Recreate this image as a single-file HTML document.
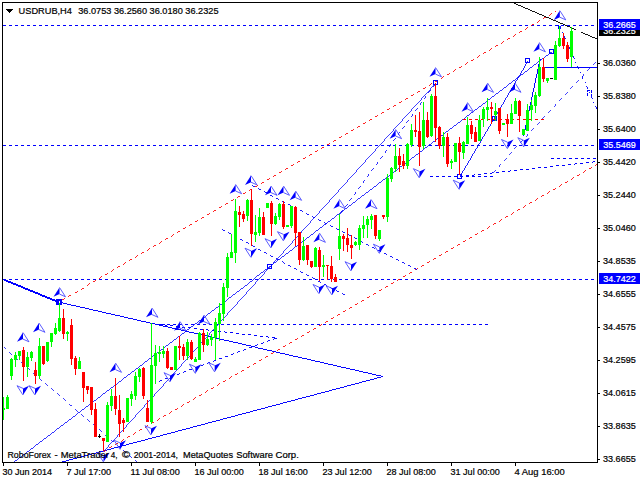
<!DOCTYPE html>
<html><head><meta charset="utf-8"><title>USDRUB,H4</title>
<style>
html,body{margin:0;padding:0;background:#fff;width:640px;height:480px;overflow:hidden}
svg{display:block;position:absolute;left:0;top:0}
text{font-family:"Liberation Sans",sans-serif;font-size:9.8px;stroke:#000;stroke-width:0.22px}
text.w{stroke:#fff}
</style></head><body>
<svg width="640" height="480" viewBox="0 0 640 480">
<rect width="640" height="480" fill="#fff"/>
<g shape-rendering="crispEdges">
<line x1="3.00" y1="25.50" x2="597.00" y2="25.50" stroke="#0000ff" stroke-width="1.000" stroke-dasharray="3.00,3.00" />
<line x1="3.00" y1="145.50" x2="597.00" y2="145.50" stroke="#0000ff" stroke-width="1.000" stroke-dasharray="3.00,3.00" />
<line x1="3.00" y1="279.50" x2="597.00" y2="279.50" stroke="#0000ff" stroke-width="1.000" stroke-dasharray="3.00,3.00" />
<line x1="152.00" y1="324.50" x2="488.00" y2="324.50" stroke="#0000ff" stroke-width="1.000" stroke-dasharray="3.00,3.00" stroke-dashoffset="3"/>
<line x1="3.50" y1="279.50" x2="59.50" y2="302.50" stroke="#0000ff" stroke-width="1.850" />
<line x1="59.50" y1="302.50" x2="383.00" y2="376.50" stroke="#0000ff" stroke-width="0.975" />
<line x1="383.00" y1="376.50" x2="60.00" y2="462.50" stroke="#0000ff" stroke-width="0.966" />
<line x1="12.50" y1="462.50" x2="551.50" y2="52.00" stroke="#0000ff" stroke-width="0.796" />
<line x1="103.50" y1="451.50" x2="435.90" y2="83.00" stroke="#0000ff" stroke-width="0.743" />
<line x1="340.50" y1="213.50" x2="435.50" y2="83.50" stroke="#0000ff" stroke-width="0.807" stroke-dasharray="3.72,3.72" />
<line x1="59.50" y1="301.50" x2="555.50" y2="11.50" stroke="#ff0000" stroke-width="0.863" stroke-dasharray="3.48,3.48" stroke-dashoffset="3.5"/>
<line x1="103.50" y1="451.50" x2="597.50" y2="164.00" stroke="#ff0000" stroke-width="0.864" stroke-dasharray="3.47,3.47" />
<line x1="251.50" y1="185.50" x2="416.50" y2="269.50" stroke="#0000ff" stroke-width="0.891" stroke-dasharray="3.37,3.37" />
<line x1="221.50" y1="229.50" x2="345.50" y2="295.50" stroke="#0000ff" stroke-width="0.883" stroke-dasharray="3.40,3.40" />
<line x1="3.50" y1="347.50" x2="137.50" y2="462.50" stroke="#0000ff" stroke-width="0.759" stroke-dasharray="3.95,3.95" />
<line x1="152.50" y1="323.50" x2="276.50" y2="338.00" stroke="#0000ff" stroke-width="0.993" stroke-dasharray="3.02,3.02" />
<line x1="276.50" y1="338.00" x2="155.50" y2="382.50" stroke="#0000ff" stroke-width="0.939" stroke-dasharray="3.20,3.20" />
<line x1="429.50" y1="176.50" x2="492.50" y2="176.50" stroke="#0000ff" stroke-width="1.000" stroke-dasharray="3.00,3.00" />
<line x1="460.00" y1="176.50" x2="597.50" y2="161.50" stroke="#0000ff" stroke-width="0.994" stroke-dasharray="3.02,3.02" />
<line x1="550.50" y1="158.50" x2="597.50" y2="158.50" stroke="#0000ff" stroke-width="1.000" stroke-dasharray="3.00,3.00" />
<line x1="492.50" y1="172.50" x2="597.50" y2="60.00" stroke="#0000ff" stroke-width="0.731" stroke-dasharray="4.10,4.10" />
<line x1="460.00" y1="176.50" x2="528.00" y2="61.10" stroke="#0000ff" stroke-width="0.862" />
<line x1="523.50" y1="135.50" x2="540.00" y2="58.50" stroke="#0000ff" stroke-width="0.978" />
<line x1="544.50" y1="67.50" x2="597.50" y2="67.50" stroke="#0000ff" stroke-width="1.000" />
<line x1="462.50" y1="119.50" x2="544.50" y2="119.50" stroke="#ff0000" stroke-width="1.000" stroke-dasharray="3.00,3.00" />
<line x1="560.00" y1="25.50" x2="597.00" y2="109.50" stroke="#0000ff" stroke-width="0.915" stroke-dasharray="3.28,3.28,1.09,3.28" />
<line x1="511.50" y1="2.50" x2="575.50" y2="30.00" stroke="#000" stroke-width="0.919" />
<line x1="580.50" y1="32.50" x2="597.50" y2="39.50" stroke="#000" stroke-width="0.925" />
<path d="M587.5 95.5V90.5H591.5V95.5" fill="none" stroke="#0000ff" stroke-width="1" stroke-dasharray="3,1"/>
<path d="M556.5 25.5H558.5V28.5" fill="none" stroke="#0000ff" stroke-width="1"/>
<rect x="57.0" y="300.0" width="4" height="4" fill="none" stroke="#0000ff" stroke-width="2"/>
<rect x="267.5" y="264.5" width="4" height="4" fill="none" stroke="#0000ff" stroke-width="1"/>
<rect x="433.4" y="80.5" width="4" height="4" fill="none" stroke="#0000ff" stroke-width="1"/>
<rect x="457.5" y="174.2" width="4" height="4" fill="none" stroke="#0000ff" stroke-width="1"/>
<rect x="525.5" y="58.6" width="4" height="4" fill="none" stroke="#0000ff" stroke-width="1"/>
<rect x="549.2" y="49.5" width="4" height="4" fill="none" stroke="#0000ff" stroke-width="1"/>
<rect x="492.5" y="116.0" width="4" height="4" fill="none" stroke="#0000ff" stroke-width="1"/>
</g>
<g shape-rendering="crispEdges">
<rect x="3" y="397" width="1" height="23" fill="#00ff00"/>
<rect x="2" y="408" width="3" height="2" fill="#00ff00"/>
<rect x="7" y="395" width="1" height="14" fill="#00ff00"/>
<rect x="6" y="397" width="3" height="12" fill="#00ff00"/>
<rect x="11" y="358" width="1" height="22" fill="#00ff00"/>
<rect x="10" y="359" width="3" height="17" fill="#00ff00"/>
<rect x="15" y="352" width="1" height="15" fill="#00ff00"/>
<rect x="14" y="355" width="3" height="5" fill="#00ff00"/>
<rect x="19" y="351" width="1" height="9" fill="#00ff00"/>
<rect x="18" y="351" width="3" height="5" fill="#00ff00"/>
<rect x="23" y="347" width="1" height="34" fill="#ff0000"/>
<rect x="22" y="350" width="3" height="17" fill="#ff0000"/>
<rect x="27" y="352" width="1" height="25" fill="#00ff00"/>
<rect x="26" y="357" width="3" height="10" fill="#00ff00"/>
<rect x="31" y="351" width="1" height="10" fill="#00ff00"/>
<rect x="30" y="352" width="3" height="6" fill="#00ff00"/>
<rect x="35" y="362" width="1" height="22" fill="#ff0000"/>
<rect x="34" y="370" width="3" height="6" fill="#ff0000"/>
<rect x="39" y="338" width="1" height="41" fill="#00ff00"/>
<rect x="38" y="346" width="3" height="30" fill="#00ff00"/>
<rect x="43" y="346" width="1" height="19" fill="#ff0000"/>
<rect x="42" y="346" width="3" height="18" fill="#ff0000"/>
<rect x="47" y="342" width="1" height="20" fill="#00ff00"/>
<rect x="46" y="342" width="3" height="19" fill="#00ff00"/>
<rect x="51" y="333" width="1" height="14" fill="#00ff00"/>
<rect x="50" y="333" width="3" height="9" fill="#00ff00"/>
<rect x="55" y="323" width="1" height="12" fill="#00ff00"/>
<rect x="54" y="328" width="3" height="6" fill="#00ff00"/>
<rect x="59" y="303" width="1" height="29" fill="#00ff00"/>
<rect x="58" y="318" width="3" height="13" fill="#00ff00"/>
<rect x="63" y="309" width="1" height="30" fill="#ff0000"/>
<rect x="62" y="318" width="3" height="16" fill="#ff0000"/>
<rect x="67" y="331" width="1" height="10" fill="#00ff00"/>
<rect x="66" y="332" width="3" height="2" fill="#00ff00"/>
<rect x="71" y="319" width="1" height="46" fill="#ff0000"/>
<rect x="70" y="325" width="3" height="34" fill="#ff0000"/>
<rect x="75" y="356" width="1" height="19" fill="#ff0000"/>
<rect x="74" y="358" width="3" height="11" fill="#ff0000"/>
<rect x="79" y="357" width="1" height="12" fill="#00ff00"/>
<rect x="78" y="361" width="3" height="8" fill="#00ff00"/>
<rect x="83" y="372" width="1" height="30" fill="#ff0000"/>
<rect x="82" y="372" width="3" height="16" fill="#ff0000"/>
<rect x="87" y="386" width="1" height="8" fill="#ff0000"/>
<rect x="86" y="386" width="3" height="4" fill="#ff0000"/>
<rect x="91" y="387" width="1" height="28" fill="#ff0000"/>
<rect x="90" y="387" width="3" height="23" fill="#ff0000"/>
<rect x="95" y="403" width="1" height="34" fill="#ff0000"/>
<rect x="94" y="409" width="3" height="28" fill="#ff0000"/>
<rect x="103" y="438" width="1" height="13" fill="#ff0000"/>
<rect x="102" y="438" width="3" height="3" fill="#ff0000"/>
<rect x="107" y="402" width="1" height="40" fill="#00ff00"/>
<rect x="106" y="405" width="3" height="37" fill="#00ff00"/>
<rect x="111" y="389" width="1" height="22" fill="#00ff00"/>
<rect x="110" y="396" width="3" height="10" fill="#00ff00"/>
<rect x="115" y="378" width="1" height="37" fill="#ff0000"/>
<rect x="114" y="396" width="3" height="13" fill="#ff0000"/>
<rect x="119" y="395" width="1" height="42" fill="#ff0000"/>
<rect x="118" y="410" width="3" height="14" fill="#ff0000"/>
<rect x="123" y="418" width="1" height="14" fill="#ff0000"/>
<rect x="122" y="420" width="3" height="3" fill="#ff0000"/>
<rect x="127" y="398" width="1" height="24" fill="#00ff00"/>
<rect x="126" y="398" width="3" height="24" fill="#00ff00"/>
<rect x="131" y="391" width="1" height="15" fill="#00ff00"/>
<rect x="130" y="394" width="3" height="5" fill="#00ff00"/>
<rect x="135" y="372" width="1" height="28" fill="#00ff00"/>
<rect x="134" y="376" width="3" height="20" fill="#00ff00"/>
<rect x="139" y="368" width="1" height="14" fill="#00ff00"/>
<rect x="138" y="369" width="3" height="8" fill="#00ff00"/>
<rect x="143" y="367" width="1" height="32" fill="#ff0000"/>
<rect x="142" y="368" width="3" height="28" fill="#ff0000"/>
<rect x="147" y="400" width="1" height="22" fill="#ff0000"/>
<rect x="146" y="408" width="3" height="14" fill="#ff0000"/>
<rect x="151" y="323" width="1" height="101" fill="#00ff00"/>
<rect x="150" y="365" width="3" height="57" fill="#00ff00"/>
<rect x="155" y="345" width="1" height="39" fill="#00ff00"/>
<rect x="154" y="353" width="3" height="13" fill="#00ff00"/>
<rect x="159" y="346" width="1" height="16" fill="#00ff00"/>
<rect x="158" y="352" width="3" height="2" fill="#00ff00"/>
<rect x="163" y="346" width="1" height="12" fill="#00ff00"/>
<rect x="162" y="351" width="3" height="3" fill="#00ff00"/>
<rect x="167" y="348" width="1" height="21" fill="#ff0000"/>
<rect x="166" y="351" width="3" height="17" fill="#ff0000"/>
<rect x="171" y="367" width="1" height="3" fill="#ff0000"/>
<rect x="170" y="367" width="3" height="3" fill="#ff0000"/>
<rect x="175" y="346" width="1" height="24" fill="#00ff00"/>
<rect x="174" y="346" width="3" height="24" fill="#00ff00"/>
<rect x="179" y="336" width="1" height="24" fill="#ff0000"/>
<rect x="178" y="346" width="3" height="2" fill="#ff0000"/>
<rect x="183" y="344" width="1" height="16" fill="#ff0000"/>
<rect x="182" y="347" width="3" height="9" fill="#ff0000"/>
<rect x="187" y="339" width="1" height="21" fill="#00ff00"/>
<rect x="186" y="342" width="3" height="14" fill="#00ff00"/>
<rect x="191" y="340" width="1" height="20" fill="#ff0000"/>
<rect x="190" y="342" width="3" height="17" fill="#ff0000"/>
<rect x="195" y="357" width="1" height="5" fill="#00ff00"/>
<rect x="194" y="359" width="3" height="3" fill="#00ff00"/>
<rect x="199" y="332" width="1" height="28" fill="#00ff00"/>
<rect x="198" y="333" width="3" height="27" fill="#00ff00"/>
<rect x="203" y="329" width="1" height="23" fill="#ff0000"/>
<rect x="202" y="333" width="3" height="12" fill="#ff0000"/>
<rect x="207" y="332" width="1" height="14" fill="#00ff00"/>
<rect x="206" y="339" width="3" height="6" fill="#00ff00"/>
<rect x="211" y="334" width="1" height="12" fill="#00ff00"/>
<rect x="210" y="337" width="3" height="3" fill="#00ff00"/>
<rect x="215" y="318" width="1" height="42" fill="#00ff00"/>
<rect x="214" y="322" width="3" height="16" fill="#00ff00"/>
<rect x="219" y="303" width="1" height="38" fill="#00ff00"/>
<rect x="218" y="313" width="3" height="11" fill="#00ff00"/>
<rect x="223" y="283" width="1" height="38" fill="#00ff00"/>
<rect x="222" y="287" width="3" height="27" fill="#00ff00"/>
<rect x="227" y="253" width="1" height="44" fill="#00ff00"/>
<rect x="226" y="257" width="3" height="31" fill="#00ff00"/>
<rect x="231" y="234" width="1" height="24" fill="#00ff00"/>
<rect x="230" y="252" width="3" height="6" fill="#00ff00"/>
<rect x="235" y="199" width="1" height="64" fill="#00ff00"/>
<rect x="234" y="211" width="3" height="42" fill="#00ff00"/>
<rect x="239" y="206" width="1" height="21" fill="#ff0000"/>
<rect x="238" y="212" width="3" height="3" fill="#ff0000"/>
<rect x="243" y="211" width="1" height="11" fill="#ff0000"/>
<rect x="242" y="214" width="3" height="5" fill="#ff0000"/>
<rect x="247" y="199" width="1" height="22" fill="#00ff00"/>
<rect x="246" y="200" width="3" height="16" fill="#00ff00"/>
<rect x="251" y="189" width="1" height="57" fill="#ff0000"/>
<rect x="250" y="200" width="3" height="34" fill="#ff0000"/>
<rect x="255" y="215" width="1" height="27" fill="#00ff00"/>
<rect x="254" y="232" width="3" height="3" fill="#00ff00"/>
<rect x="259" y="208" width="1" height="28" fill="#00ff00"/>
<rect x="258" y="217" width="3" height="16" fill="#00ff00"/>
<rect x="263" y="212" width="1" height="23" fill="#ff0000"/>
<rect x="262" y="217" width="3" height="18" fill="#ff0000"/>
<rect x="267" y="203" width="1" height="5" fill="#00ff00"/>
<rect x="266" y="203" width="3" height="5" fill="#00ff00"/>
<rect x="271" y="201" width="1" height="35" fill="#ff0000"/>
<rect x="270" y="203" width="3" height="21" fill="#ff0000"/>
<rect x="275" y="213" width="1" height="12" fill="#00ff00"/>
<rect x="274" y="216" width="3" height="8" fill="#00ff00"/>
<rect x="279" y="203" width="1" height="17" fill="#00ff00"/>
<rect x="278" y="204" width="3" height="13" fill="#00ff00"/>
<rect x="283" y="201" width="1" height="28" fill="#ff0000"/>
<rect x="282" y="204" width="3" height="23" fill="#ff0000"/>
<rect x="287" y="225" width="1" height="2" fill="#00ff00"/>
<rect x="286" y="225" width="3" height="2" fill="#00ff00"/>
<rect x="291" y="206" width="1" height="22" fill="#00ff00"/>
<rect x="290" y="206" width="3" height="20" fill="#00ff00"/>
<rect x="295" y="206" width="1" height="40" fill="#ff0000"/>
<rect x="294" y="207" width="3" height="26" fill="#ff0000"/>
<rect x="299" y="232" width="1" height="33" fill="#ff0000"/>
<rect x="298" y="232" width="3" height="28" fill="#ff0000"/>
<rect x="303" y="237" width="1" height="24" fill="#00ff00"/>
<rect x="302" y="246" width="3" height="14" fill="#00ff00"/>
<rect x="307" y="245" width="1" height="20" fill="#ff0000"/>
<rect x="306" y="245" width="3" height="15" fill="#ff0000"/>
<rect x="311" y="261" width="1" height="7" fill="#ff0000"/>
<rect x="310" y="261" width="3" height="6" fill="#ff0000"/>
<rect x="315" y="247" width="1" height="20" fill="#00ff00"/>
<rect x="314" y="248" width="3" height="19" fill="#00ff00"/>
<rect x="319" y="247" width="1" height="34" fill="#ff0000"/>
<rect x="318" y="250" width="3" height="17" fill="#ff0000"/>
<rect x="323" y="255" width="1" height="22" fill="#00ff00"/>
<rect x="322" y="265" width="3" height="2" fill="#00ff00"/>
<rect x="327" y="265" width="1" height="15" fill="#ff0000"/>
<rect x="326" y="265" width="3" height="1" fill="#ff0000"/>
<rect x="331" y="256" width="1" height="26" fill="#ff0000"/>
<rect x="330" y="266" width="3" height="13" fill="#ff0000"/>
<rect x="335" y="274" width="1" height="8" fill="#ff0000"/>
<rect x="334" y="277" width="3" height="5" fill="#ff0000"/>
<rect x="339" y="214" width="1" height="46" fill="#00ff00"/>
<rect x="338" y="236" width="3" height="13" fill="#00ff00"/>
<rect x="343" y="234" width="1" height="17" fill="#ff0000"/>
<rect x="342" y="236" width="3" height="3" fill="#ff0000"/>
<rect x="347" y="228" width="1" height="24" fill="#ff0000"/>
<rect x="346" y="238" width="3" height="7" fill="#ff0000"/>
<rect x="351" y="235" width="1" height="24" fill="#ff0000"/>
<rect x="350" y="245" width="3" height="3" fill="#ff0000"/>
<rect x="355" y="241" width="1" height="5" fill="#00ff00"/>
<rect x="354" y="242" width="3" height="3" fill="#00ff00"/>
<rect x="359" y="225" width="1" height="25" fill="#00ff00"/>
<rect x="358" y="228" width="3" height="17" fill="#00ff00"/>
<rect x="363" y="216" width="1" height="22" fill="#00ff00"/>
<rect x="362" y="225" width="3" height="4" fill="#00ff00"/>
<rect x="367" y="216" width="1" height="22" fill="#00ff00"/>
<rect x="366" y="219" width="3" height="6" fill="#00ff00"/>
<rect x="371" y="214" width="1" height="15" fill="#00ff00"/>
<rect x="370" y="216" width="3" height="4" fill="#00ff00"/>
<rect x="375" y="215" width="1" height="24" fill="#ff0000"/>
<rect x="374" y="215" width="3" height="21" fill="#ff0000"/>
<rect x="379" y="230" width="1" height="11" fill="#00ff00"/>
<rect x="378" y="230" width="3" height="9" fill="#00ff00"/>
<rect x="383" y="215" width="1" height="4" fill="#ff0000"/>
<rect x="382" y="215" width="3" height="2" fill="#ff0000"/>
<rect x="387" y="174" width="1" height="48" fill="#00ff00"/>
<rect x="386" y="178" width="3" height="39" fill="#00ff00"/>
<rect x="391" y="167" width="1" height="15" fill="#00ff00"/>
<rect x="390" y="168" width="3" height="11" fill="#00ff00"/>
<rect x="395" y="144" width="1" height="28" fill="#00ff00"/>
<rect x="394" y="156" width="3" height="13" fill="#00ff00"/>
<rect x="399" y="148" width="1" height="24" fill="#ff0000"/>
<rect x="398" y="156" width="3" height="9" fill="#ff0000"/>
<rect x="403" y="154" width="1" height="15" fill="#ff0000"/>
<rect x="402" y="161" width="3" height="5" fill="#ff0000"/>
<rect x="407" y="143" width="1" height="26" fill="#00ff00"/>
<rect x="406" y="144" width="3" height="22" fill="#00ff00"/>
<rect x="411" y="124" width="1" height="23" fill="#00ff00"/>
<rect x="410" y="130" width="3" height="15" fill="#00ff00"/>
<rect x="415" y="115" width="1" height="22" fill="#ff0000"/>
<rect x="414" y="130" width="3" height="2" fill="#ff0000"/>
<rect x="419" y="112" width="1" height="54" fill="#ff0000"/>
<rect x="418" y="131" width="3" height="16" fill="#ff0000"/>
<rect x="423" y="102" width="1" height="47" fill="#00ff00"/>
<rect x="422" y="120" width="3" height="26" fill="#00ff00"/>
<rect x="427" y="112" width="1" height="26" fill="#ff0000"/>
<rect x="426" y="120" width="3" height="17" fill="#ff0000"/>
<rect x="431" y="94" width="1" height="43" fill="#00ff00"/>
<rect x="430" y="96" width="3" height="40" fill="#00ff00"/>
<rect x="435" y="83" width="1" height="59" fill="#ff0000"/>
<rect x="434" y="96" width="3" height="32" fill="#ff0000"/>
<rect x="439" y="126" width="1" height="23" fill="#ff0000"/>
<rect x="438" y="127" width="3" height="19" fill="#ff0000"/>
<rect x="443" y="132" width="1" height="25" fill="#00ff00"/>
<rect x="442" y="137" width="3" height="9" fill="#00ff00"/>
<rect x="447" y="133" width="1" height="34" fill="#ff0000"/>
<rect x="446" y="137" width="3" height="27" fill="#ff0000"/>
<rect x="451" y="159" width="1" height="10" fill="#00ff00"/>
<rect x="450" y="161" width="3" height="2" fill="#00ff00"/>
<rect x="455" y="143" width="1" height="19" fill="#00ff00"/>
<rect x="454" y="143" width="3" height="19" fill="#00ff00"/>
<rect x="459" y="137" width="1" height="38" fill="#ff0000"/>
<rect x="458" y="143" width="3" height="9" fill="#ff0000"/>
<rect x="463" y="141" width="1" height="18" fill="#00ff00"/>
<rect x="462" y="142" width="3" height="11" fill="#00ff00"/>
<rect x="467" y="117" width="1" height="27" fill="#00ff00"/>
<rect x="466" y="125" width="3" height="19" fill="#00ff00"/>
<rect x="471" y="121" width="1" height="18" fill="#ff0000"/>
<rect x="470" y="125" width="3" height="9" fill="#ff0000"/>
<rect x="475" y="127" width="1" height="15" fill="#ff0000"/>
<rect x="474" y="132" width="3" height="10" fill="#ff0000"/>
<rect x="479" y="115" width="1" height="26" fill="#00ff00"/>
<rect x="478" y="120" width="3" height="21" fill="#00ff00"/>
<rect x="483" y="107" width="1" height="20" fill="#00ff00"/>
<rect x="482" y="109" width="3" height="10" fill="#00ff00"/>
<rect x="487" y="98" width="1" height="23" fill="#00ff00"/>
<rect x="486" y="107" width="3" height="3" fill="#00ff00"/>
<rect x="491" y="102" width="1" height="22" fill="#ff0000"/>
<rect x="490" y="107" width="3" height="2" fill="#ff0000"/>
<rect x="495" y="103" width="1" height="18" fill="#00ff00"/>
<rect x="494" y="111" width="3" height="4" fill="#00ff00"/>
<rect x="499" y="108" width="1" height="26" fill="#ff0000"/>
<rect x="498" y="108" width="3" height="23" fill="#ff0000"/>
<rect x="503" y="123" width="1" height="2" fill="#00ff00"/>
<rect x="502" y="123" width="3" height="2" fill="#00ff00"/>
<rect x="507" y="114" width="1" height="23" fill="#ff0000"/>
<rect x="506" y="119" width="3" height="5" fill="#ff0000"/>
<rect x="511" y="104" width="1" height="20" fill="#00ff00"/>
<rect x="510" y="113" width="3" height="11" fill="#00ff00"/>
<rect x="515" y="98" width="1" height="16" fill="#00ff00"/>
<rect x="514" y="101" width="3" height="13" fill="#00ff00"/>
<rect x="519" y="100" width="1" height="32" fill="#ff0000"/>
<rect x="518" y="101" width="3" height="15" fill="#ff0000"/>
<rect x="523" y="129" width="1" height="6" fill="#00ff00"/>
<rect x="522" y="129" width="3" height="6" fill="#00ff00"/>
<rect x="527" y="104" width="1" height="27" fill="#00ff00"/>
<rect x="526" y="110" width="3" height="21" fill="#00ff00"/>
<rect x="531" y="100" width="1" height="21" fill="#00ff00"/>
<rect x="530" y="105" width="3" height="5" fill="#00ff00"/>
<rect x="535" y="92" width="1" height="21" fill="#00ff00"/>
<rect x="534" y="95" width="3" height="11" fill="#00ff00"/>
<rect x="539" y="57" width="1" height="40" fill="#00ff00"/>
<rect x="538" y="67" width="3" height="29" fill="#00ff00"/>
<rect x="543" y="58" width="1" height="24" fill="#ff0000"/>
<rect x="542" y="67" width="3" height="12" fill="#ff0000"/>
<rect x="547" y="78" width="1" height="5" fill="#00ff00"/>
<rect x="546" y="78" width="3" height="3" fill="#00ff00"/>
<rect x="555" y="41" width="1" height="39" fill="#00ff00"/>
<rect x="554" y="45" width="3" height="35" fill="#00ff00"/>
<rect x="559" y="26" width="1" height="21" fill="#00ff00"/>
<rect x="558" y="38" width="3" height="8" fill="#00ff00"/>
<rect x="563" y="33" width="1" height="16" fill="#ff0000"/>
<rect x="562" y="38" width="3" height="8" fill="#ff0000"/>
<rect x="567" y="42" width="1" height="20" fill="#ff0000"/>
<rect x="566" y="45" width="3" height="14" fill="#ff0000"/>
<rect x="571" y="27" width="1" height="40" fill="#00ff00"/>
<rect x="570" y="31" width="3" height="26" fill="#00ff00"/>
<rect x="98" y="436" width="3" height="1" fill="#000"/><rect x="99" y="434" width="1" height="4" fill="#000"/>
<rect x="550" y="78" width="3" height="1" fill="#000"/>
</g>
<g>
<g transform="translate(23.0,332.5)"><path d="M0 0L-6 9.3L0 6.6Z" fill="#0000ff"/><path d="M0 0L6 9.3L0 6.6" fill="none" stroke="#4a4aff" stroke-width="0.9"/></g>
<g transform="translate(39.0,323.0)"><path d="M0 0L-6 9.3L0 6.6Z" fill="#0000ff"/><path d="M0 0L6 9.3L0 6.6" fill="none" stroke="#4a4aff" stroke-width="0.9"/></g>
<g transform="translate(59.5,287.5)"><path d="M0 0L-6 9.3L0 6.6Z" fill="#0000ff"/><path d="M0 0L6 9.3L0 6.6" fill="none" stroke="#4a4aff" stroke-width="0.9"/></g>
<g transform="translate(115.5,363.0)"><path d="M0 0L-6 9.3L0 6.6Z" fill="#0000ff"/><path d="M0 0L6 9.3L0 6.6" fill="none" stroke="#4a4aff" stroke-width="0.9"/></g>
<g transform="translate(152.0,308.0)"><path d="M0 0L-6 9.3L0 6.6Z" fill="#0000ff"/><path d="M0 0L6 9.3L0 6.6" fill="none" stroke="#4a4aff" stroke-width="0.9"/></g>
<g transform="translate(180.0,321.5)"><path d="M0 0L-6 9.3L0 6.6Z" fill="#0000ff"/><path d="M0 0L6 9.3L0 6.6" fill="none" stroke="#4a4aff" stroke-width="0.9"/></g>
<g transform="translate(204.0,315.0)"><path d="M0 0L-6 9.3L0 6.6Z" fill="#0000ff"/><path d="M0 0L6 9.3L0 6.6" fill="none" stroke="#4a4aff" stroke-width="0.9"/></g>
<g transform="translate(235.6,184.4)"><path d="M0 0L-6 9.3L0 6.6Z" fill="#0000ff"/><path d="M0 0L6 9.3L0 6.6" fill="none" stroke="#4a4aff" stroke-width="0.9"/></g>
<g transform="translate(251.0,175.6)"><path d="M0 0L-6 9.3L0 6.6Z" fill="#0000ff"/><path d="M0 0L6 9.3L0 6.6" fill="none" stroke="#4a4aff" stroke-width="0.9"/></g>
<g transform="translate(271.0,186.0)"><path d="M0 0L-6 9.3L0 6.6Z" fill="#0000ff"/><path d="M0 0L6 9.3L0 6.6" fill="none" stroke="#4a4aff" stroke-width="0.9"/></g>
<g transform="translate(283.5,186.0)"><path d="M0 0L-6 9.3L0 6.6Z" fill="#0000ff"/><path d="M0 0L6 9.3L0 6.6" fill="none" stroke="#4a4aff" stroke-width="0.9"/></g>
<g transform="translate(295.6,191.0)"><path d="M0 0L-6 9.3L0 6.6Z" fill="#0000ff"/><path d="M0 0L6 9.3L0 6.6" fill="none" stroke="#4a4aff" stroke-width="0.9"/></g>
<g transform="translate(319.4,233.0)"><path d="M0 0L-6 9.3L0 6.6Z" fill="#0000ff"/><path d="M0 0L6 9.3L0 6.6" fill="none" stroke="#4a4aff" stroke-width="0.9"/></g>
<g transform="translate(339.4,199.4)"><path d="M0 0L-6 9.3L0 6.6Z" fill="#0000ff"/><path d="M0 0L6 9.3L0 6.6" fill="none" stroke="#4a4aff" stroke-width="0.9"/></g>
<g transform="translate(371.0,199.4)"><path d="M0 0L-6 9.3L0 6.6Z" fill="#0000ff"/><path d="M0 0L6 9.3L0 6.6" fill="none" stroke="#4a4aff" stroke-width="0.9"/></g>
<g transform="translate(395.6,129.4)"><path d="M0 0L-6 9.3L0 6.6Z" fill="#0000ff"/><path d="M0 0L6 9.3L0 6.6" fill="none" stroke="#4a4aff" stroke-width="0.9"/></g>
<g transform="translate(435.5,67.5)"><path d="M0 0L-6 9.3L0 6.6Z" fill="#0000ff"/><path d="M0 0L6 9.3L0 6.6" fill="none" stroke="#4a4aff" stroke-width="0.9"/></g>
<g transform="translate(467.5,102.5)"><path d="M0 0L-6 9.3L0 6.6Z" fill="#0000ff"/><path d="M0 0L6 9.3L0 6.6" fill="none" stroke="#4a4aff" stroke-width="0.9"/></g>
<g transform="translate(487.5,83.0)"><path d="M0 0L-6 9.3L0 6.6Z" fill="#0000ff"/><path d="M0 0L6 9.3L0 6.6" fill="none" stroke="#4a4aff" stroke-width="0.9"/></g>
<g transform="translate(515.0,83.0)"><path d="M0 0L-6 9.3L0 6.6Z" fill="#0000ff"/><path d="M0 0L6 9.3L0 6.6" fill="none" stroke="#4a4aff" stroke-width="0.9"/></g>
<g transform="translate(539.4,42.5)"><path d="M0 0L-6 9.3L0 6.6Z" fill="#0000ff"/><path d="M0 0L6 9.3L0 6.6" fill="none" stroke="#4a4aff" stroke-width="0.9"/></g>
<g transform="translate(559.8,10.6)"><path d="M0 0L-6 9.3L0 6.6Z" fill="#0000ff"/><path d="M0 0L6 9.3L0 6.6" fill="none" stroke="#4a4aff" stroke-width="0.9"/></g>
<g transform="translate(23.0,395.0) rotate(180)"><path d="M0 0L-6 9.3L0 6.6Z" fill="#0000ff"/><path d="M0 0L6 9.3L0 6.6" fill="none" stroke="#4a4aff" stroke-width="0.9"/></g>
<g transform="translate(35.0,395.0) rotate(180)"><path d="M0 0L-6 9.3L0 6.6Z" fill="#0000ff"/><path d="M0 0L6 9.3L0 6.6" fill="none" stroke="#4a4aff" stroke-width="0.9"/></g>
<g transform="translate(103.5,462.0) rotate(180)"><path d="M0 0L-6 9.3L0 6.6Z" fill="#0000ff"/><path d="M0 0L6 9.3L0 6.6" fill="none" stroke="#4a4aff" stroke-width="0.9"/></g>
<g transform="translate(120.0,449.5) rotate(180)"><path d="M0 0L-6 9.3L0 6.6Z" fill="#0000ff"/><path d="M0 0L6 9.3L0 6.6" fill="none" stroke="#4a4aff" stroke-width="0.9"/></g>
<g transform="translate(151.0,435.0) rotate(180)"><path d="M0 0L-6 9.3L0 6.6Z" fill="#0000ff"/><path d="M0 0L6 9.3L0 6.6" fill="none" stroke="#4a4aff" stroke-width="0.9"/></g>
<g transform="translate(170.0,382.0) rotate(180)"><path d="M0 0L-6 9.3L0 6.6Z" fill="#0000ff"/><path d="M0 0L6 9.3L0 6.6" fill="none" stroke="#4a4aff" stroke-width="0.9"/></g>
<g transform="translate(195.4,373.5) rotate(180)"><path d="M0 0L-6 9.3L0 6.6Z" fill="#0000ff"/><path d="M0 0L6 9.3L0 6.6" fill="none" stroke="#4a4aff" stroke-width="0.9"/></g>
<g transform="translate(214.7,372.0) rotate(180)"><path d="M0 0L-6 9.3L0 6.6Z" fill="#0000ff"/><path d="M0 0L6 9.3L0 6.6" fill="none" stroke="#4a4aff" stroke-width="0.9"/></g>
<g transform="translate(251.0,257.5) rotate(180)"><path d="M0 0L-6 9.3L0 6.6Z" fill="#0000ff"/><path d="M0 0L6 9.3L0 6.6" fill="none" stroke="#4a4aff" stroke-width="0.9"/></g>
<g transform="translate(271.0,248.0) rotate(180)"><path d="M0 0L-6 9.3L0 6.6Z" fill="#0000ff"/><path d="M0 0L6 9.3L0 6.6" fill="none" stroke="#4a4aff" stroke-width="0.9"/></g>
<g transform="translate(283.5,241.0) rotate(180)"><path d="M0 0L-6 9.3L0 6.6Z" fill="#0000ff"/><path d="M0 0L6 9.3L0 6.6" fill="none" stroke="#4a4aff" stroke-width="0.9"/></g>
<g transform="translate(319.0,293.8) rotate(180)"><path d="M0 0L-6 9.3L0 6.6Z" fill="#0000ff"/><path d="M0 0L6 9.3L0 6.6" fill="none" stroke="#4a4aff" stroke-width="0.9"/></g>
<g transform="translate(332.0,295.0) rotate(180)"><path d="M0 0L-6 9.3L0 6.6Z" fill="#0000ff"/><path d="M0 0L6 9.3L0 6.6" fill="none" stroke="#4a4aff" stroke-width="0.9"/></g>
<g transform="translate(351.0,271.0) rotate(180)"><path d="M0 0L-6 9.3L0 6.6Z" fill="#0000ff"/><path d="M0 0L6 9.3L0 6.6" fill="none" stroke="#4a4aff" stroke-width="0.9"/></g>
<g transform="translate(379.4,253.5) rotate(180)"><path d="M0 0L-6 9.3L0 6.6Z" fill="#0000ff"/><path d="M0 0L6 9.3L0 6.6" fill="none" stroke="#4a4aff" stroke-width="0.9"/></g>
<g transform="translate(419.4,178.0) rotate(180)"><path d="M0 0L-6 9.3L0 6.6Z" fill="#0000ff"/><path d="M0 0L6 9.3L0 6.6" fill="none" stroke="#4a4aff" stroke-width="0.9"/></g>
<g transform="translate(459.2,189.5) rotate(180)"><path d="M0 0L-6 9.3L0 6.6Z" fill="#0000ff"/><path d="M0 0L6 9.3L0 6.6" fill="none" stroke="#4a4aff" stroke-width="0.9"/></g>
<g transform="translate(507.5,148.8) rotate(180)"><path d="M0 0L-6 9.3L0 6.6Z" fill="#0000ff"/><path d="M0 0L6 9.3L0 6.6" fill="none" stroke="#4a4aff" stroke-width="0.9"/></g>
<g transform="translate(523.8,147.0) rotate(180)"><path d="M0 0L-6 9.3L0 6.6Z" fill="#0000ff"/><path d="M0 0L6 9.3L0 6.6" fill="none" stroke="#4a4aff" stroke-width="0.9"/></g>
</g>
<g shape-rendering="crispEdges">
<rect x="2.5" y="2.5" width="595" height="460" fill="none" stroke="#000" stroke-width="1"/>
<rect x="598" y="63" width="2" height="1" fill="#000"/>
<text x="603" y="66.0" textLength="32.8" lengthAdjust="spacingAndGlyphs">36.0360</text>
<rect x="598" y="96" width="2" height="1" fill="#000"/>
<text x="603" y="99.0" textLength="32.8" lengthAdjust="spacingAndGlyphs">35.8380</text>
<rect x="598" y="129" width="2" height="1" fill="#000"/>
<text x="603" y="132.0" textLength="32.8" lengthAdjust="spacingAndGlyphs">35.6400</text>
<rect x="598" y="162" width="2" height="1" fill="#000"/>
<text x="603" y="165.0" textLength="32.8" lengthAdjust="spacingAndGlyphs">35.4420</text>
<rect x="598" y="195" width="2" height="1" fill="#000"/>
<text x="603" y="198.0" textLength="32.8" lengthAdjust="spacingAndGlyphs">35.2440</text>
<rect x="598" y="228" width="2" height="1" fill="#000"/>
<text x="603" y="231.0" textLength="32.8" lengthAdjust="spacingAndGlyphs">35.0460</text>
<rect x="598" y="261" width="2" height="1" fill="#000"/>
<text x="603" y="264.0" textLength="32.8" lengthAdjust="spacingAndGlyphs">34.8535</text>
<rect x="598" y="294" width="2" height="1" fill="#000"/>
<text x="603" y="297.0" textLength="32.8" lengthAdjust="spacingAndGlyphs">34.6555</text>
<rect x="598" y="327" width="2" height="1" fill="#000"/>
<text x="603" y="330.0" textLength="32.8" lengthAdjust="spacingAndGlyphs">34.4575</text>
<rect x="598" y="360" width="2" height="1" fill="#000"/>
<text x="603" y="363.0" textLength="32.8" lengthAdjust="spacingAndGlyphs">34.2595</text>
<rect x="598" y="393" width="2" height="1" fill="#000"/>
<text x="603" y="396.0" textLength="32.8" lengthAdjust="spacingAndGlyphs">34.0615</text>
<rect x="598" y="426" width="2" height="1" fill="#000"/>
<text x="603" y="429.0" textLength="32.8" lengthAdjust="spacingAndGlyphs">33.8635</text>
<rect x="598" y="459" width="2" height="1" fill="#000"/>
<text x="603" y="462.0" textLength="32.8" lengthAdjust="spacingAndGlyphs">33.6655</text>
<rect x="3" y="463" width="1" height="3" fill="#000"/>
<text x="2.5" y="474.6" textLength="49.5" lengthAdjust="spacingAndGlyphs">30 Jun 2014</text>
<rect x="67" y="463" width="1" height="3" fill="#000"/>
<text x="66.5" y="474.6" textLength="44.5" lengthAdjust="spacingAndGlyphs">7 Jul 17:00</text>
<rect x="131" y="463" width="1" height="3" fill="#000"/>
<text x="130.5" y="474.6" textLength="49.3" lengthAdjust="spacingAndGlyphs">11 Jul 08:00</text>
<rect x="195" y="463" width="1" height="3" fill="#000"/>
<text x="194.5" y="474.6" textLength="49.3" lengthAdjust="spacingAndGlyphs">16 Jul 00:00</text>
<rect x="259" y="463" width="1" height="3" fill="#000"/>
<text x="258.5" y="474.6" textLength="49.3" lengthAdjust="spacingAndGlyphs">18 Jul 16:00</text>
<rect x="323" y="463" width="1" height="3" fill="#000"/>
<text x="322.5" y="474.6" textLength="49.3" lengthAdjust="spacingAndGlyphs">23 Jul 12:00</text>
<rect x="387" y="463" width="1" height="3" fill="#000"/>
<text x="386.5" y="474.6" textLength="49.3" lengthAdjust="spacingAndGlyphs">28 Jul 08:00</text>
<rect x="451" y="463" width="1" height="3" fill="#000"/>
<text x="450.5" y="474.6" textLength="49.3" lengthAdjust="spacingAndGlyphs">31 Jul 00:00</text>
<rect x="515" y="463" width="1" height="3" fill="#000"/>
<text x="514.5" y="474.6" textLength="50.2" lengthAdjust="spacingAndGlyphs">4 Aug 16:00</text>
<rect x="599" y="25" width="41" height="11" fill="#000"/>
<text x="603.2" y="34.1" fill="#fff" class="w" textLength="32.6" lengthAdjust="spacingAndGlyphs">36.2325</text>
<rect x="599" y="19" width="41" height="11" fill="#0000ff"/>
<text x="603.2" y="28.1" fill="#fff" class="w" textLength="32.6" lengthAdjust="spacingAndGlyphs">36.2665</text>
<rect x="599" y="139" width="41" height="11" fill="#0000ff"/>
<text x="603.2" y="148.1" fill="#fff" class="w" textLength="32.6" lengthAdjust="spacingAndGlyphs">35.5469</text>
<rect x="599" y="273" width="41" height="11" fill="#0000ff"/>
<text x="603.2" y="282.1" fill="#fff" class="w" textLength="32.6" lengthAdjust="spacingAndGlyphs">34.7422</text>
<path d="M6 9H13.4L9.7 13.2Z" fill="#000"/>
<text x="18.6" y="13.9" textLength="53.3" lengthAdjust="spacingAndGlyphs">USDRUB,H4</text>
<text x="78.2" y="13.9" textLength="140.3" lengthAdjust="spacingAndGlyphs">36.0753 36.2560 36.0180 36.2325</text>
<text x="7.5" y="457.5" textLength="43.5" lengthAdjust="spacingAndGlyphs">RoboForex</text>
<text x="54.4" y="457.5" textLength="3.2" lengthAdjust="spacingAndGlyphs">-</text>
<text x="60.7" y="457.5" textLength="48.3" lengthAdjust="spacingAndGlyphs">MetaTrader</text>
<text x="110.7" y="457.5" textLength="6.8" lengthAdjust="spacingAndGlyphs">4,</text>
<text x="122.0" y="457.5" textLength="8.0" lengthAdjust="spacingAndGlyphs">©</text>
<text x="133.7" y="457.5" textLength="44.3" lengthAdjust="spacingAndGlyphs">2001-2014,</text>
<text x="183.0" y="457.5" textLength="50.0" lengthAdjust="spacingAndGlyphs">MetaQuotes</text>
<text x="236.2" y="457.5" textLength="36.8" lengthAdjust="spacingAndGlyphs">Software</text>
<text x="275.5" y="457.5" textLength="23.3" lengthAdjust="spacingAndGlyphs">Corp.</text>
</g>
</svg>
</body></html>
